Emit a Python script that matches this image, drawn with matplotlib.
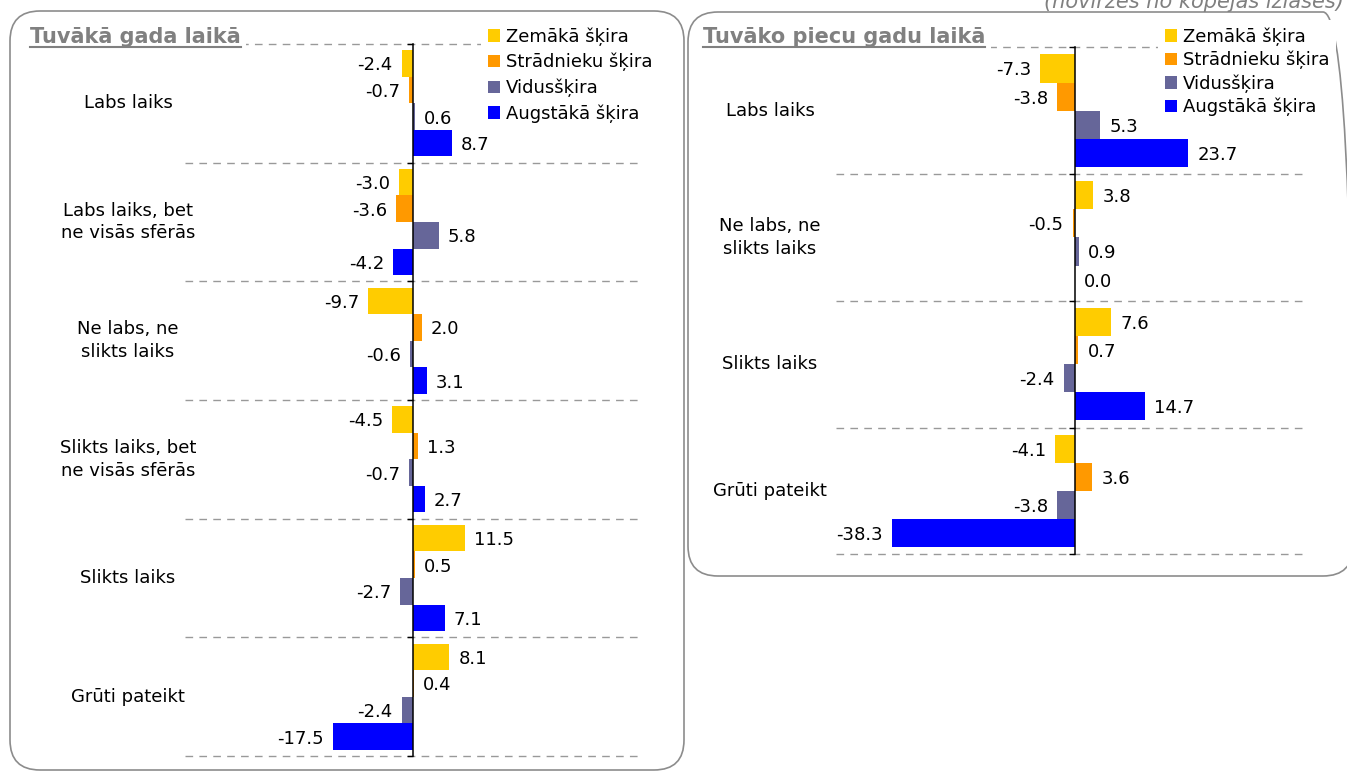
import matplotlib
matplotlib.use("Agg")
import matplotlib.pyplot as plt
import numpy as np
from matplotlib.patches import FancyBboxPatch
from matplotlib.lines import Line2D
from matplotlib.transforms import IdentityTransform, blended_transform_factory

W, H = 1347, 772

series = ["Zemākā šķira", "Strādnieku šķira", "Vidusšķira", "Augstākā šķira"]
colors = ["#FFCC00", "#FF9900", "#666699", "#0000FF"]

# next year
year_cats = ["Labs laiks", "Labs laiks, bet\nne visās sfērās", "Ne labs, ne\nslikts laiks",
             "Slikts laiks, bet\nne visās sfērās", "Slikts laiks", "Grūti pateikt"]
year_zem = [-2.4, -3.0, -9.7, -4.5, 11.5, 8.1]
year_str = [-0.7, -3.6, 2.0, 1.3, 0.5, 0.4]
year_vid = [0.6, 5.8, -0.6, -0.7, -2.7, -2.4]
year_aug = [8.7, -4.2, 3.1, 2.7, 7.1, -17.5]

# next five years
five_cats = ["Labs laiks", "Ne labs, ne\nslikts laiks", "Slikts laiks", "Grūti pateikt"]
five_zem = [-7.3, 3.8, 7.6, -4.1]
five_str = [-3.8, -0.5, 0.7, 3.6]
five_vid = [5.3, 0.9, -2.4, -3.8]
five_aug = [23.7, 0.0, 14.7, -38.3]

FS = 13


def px(x0, y0, x1, y1):
    # pixel box (top-left origin) -> figure fraction rect
    return [x0 / W, 1 - y1 / H, (x1 - x0) / W, (y1 - y0) / H]


def panel(fig, ax, cats, vals, bar_h, label_x):
    n = len(cats)
    y = np.arange(n)
    handles = []
    for j, (v, c) in enumerate(zip(vals, colors)):
        pos = y + (j - 1.5) * bar_h
        b = ax.barh(pos, v, height=bar_h, color=c, label=series[j], zorder=2)
        handles.append(b)
        for yy, val in zip(pos, v):
            ax.annotate("%.1f" % val, xy=(val, yy),
                        xytext=(6.5 if val >= 0 else -6.5, 0), textcoords="offset points",
                        ha="left" if val >= 0 else "right", va="center_baseline", fontsize=FS)
    bounds = np.arange(n + 1) - 0.5
    for b in bounds:
        ax.axhline(b, color="#999999", lw=1, ls=(0, (5.5, 4.5)), zorder=1, clip_on=False)
    ax.set_ylim(n - 0.5, -0.5)
    for s in ["top", "right", "bottom"]:
        ax.spines[s].set_visible(False)
    ax.spines["left"].set_position(("data", 0))
    ax.spines["left"].set_linewidth(1.1)
    ax.spines["left"].set_zorder(3)
    ax.set_yticks(bounds)
    ax.set_yticklabels([])
    ax.tick_params(axis="y", length=4, width=1, direction="out")
    ax.set_xticks([])
    ax.patch.set_visible(False)

    tr = blended_transform_factory(fig.transFigure, ax.transData)
    for i, c in enumerate(cats):
        ax.text(label_x / W, i, c, transform=tr, ha="center", va="center",
                multialignment="center", fontsize=FS, linespacing=1.35)
    return handles


fig = plt.figure(figsize=(W / 100, H / 100), dpi=100)

# rounded frames
for x0, y0, x1, y1 in [(10, 11, 684, 770), (688, 12, 1353, 576)]:
    box = FancyBboxPatch((x0, H - y1), x1 - x0, y1 - y0,
                         boxstyle="round,pad=0,rounding_size=30",
                         transform=IdentityTransform(), facecolor="none",
                         edgecolor="#8c8c8c", lw=1.2, zorder=0)
    fig.add_artist(box)

ax1 = fig.add_axes(px(185, 44, 640, 756))
h1 = panel(fig, ax1, year_cats, [year_zem, year_str, year_vid, year_aug], 0.224, 128)
ax1.set_xlim(-50, 50)

ax2 = fig.add_axes(px(836, 47.3, 1304.5, 554.3))
h2 = panel(fig, ax2, five_cats, [five_zem, five_str, five_vid, five_aug], 0.222, 770)
ax2.set_xlim(-50, 48)

for handles, lx, ly, sp in [(h1, 481, 20, 0.40), (h2, 1158, 20, 0.28)]:
    leg = fig.legend(handles, series, loc="upper left", bbox_to_anchor=(lx / W, 1 - ly / H),
                     bbox_transform=fig.transFigure, fontsize=FS, handlelength=0.67,
                     handleheight=0.67, handletextpad=0.3, labelspacing=sp,
                     borderpad=0.4, borderaxespad=0, fancybox=False, framealpha=1)
    leg.get_frame().set_edgecolor("none")

titles = []
for tx, txt in [(30, "Tuvākā gada laikā"), (703, "Tuvāko piecu gadu laikā")]:
    t = fig.text(tx / W, 1 - 43 / H, txt, ha="left", va="baseline", fontsize=15,
                 fontweight="bold", color="#808080",
                 bbox=dict(facecolor="white", edgecolor="none", pad=4))
    titles.append(t)

fig.text(1344 / W, 1 - 8 / H, "(novirzes no kopējās izlases)", ha="right", va="baseline",
         fontsize=15, style="italic", color="#808080")

# underline the panel titles
fig.canvas.draw()
r = fig.canvas.get_renderer()
for t in titles:
    bb = t.get_window_extent(r)
    fig.add_artist(Line2D([bb.x0, bb.x1], [H - 47, H - 47], transform=IdentityTransform(),
                          color="#808080", lw=1.5, zorder=5))

fig.savefig("out.png", dpi=100)
